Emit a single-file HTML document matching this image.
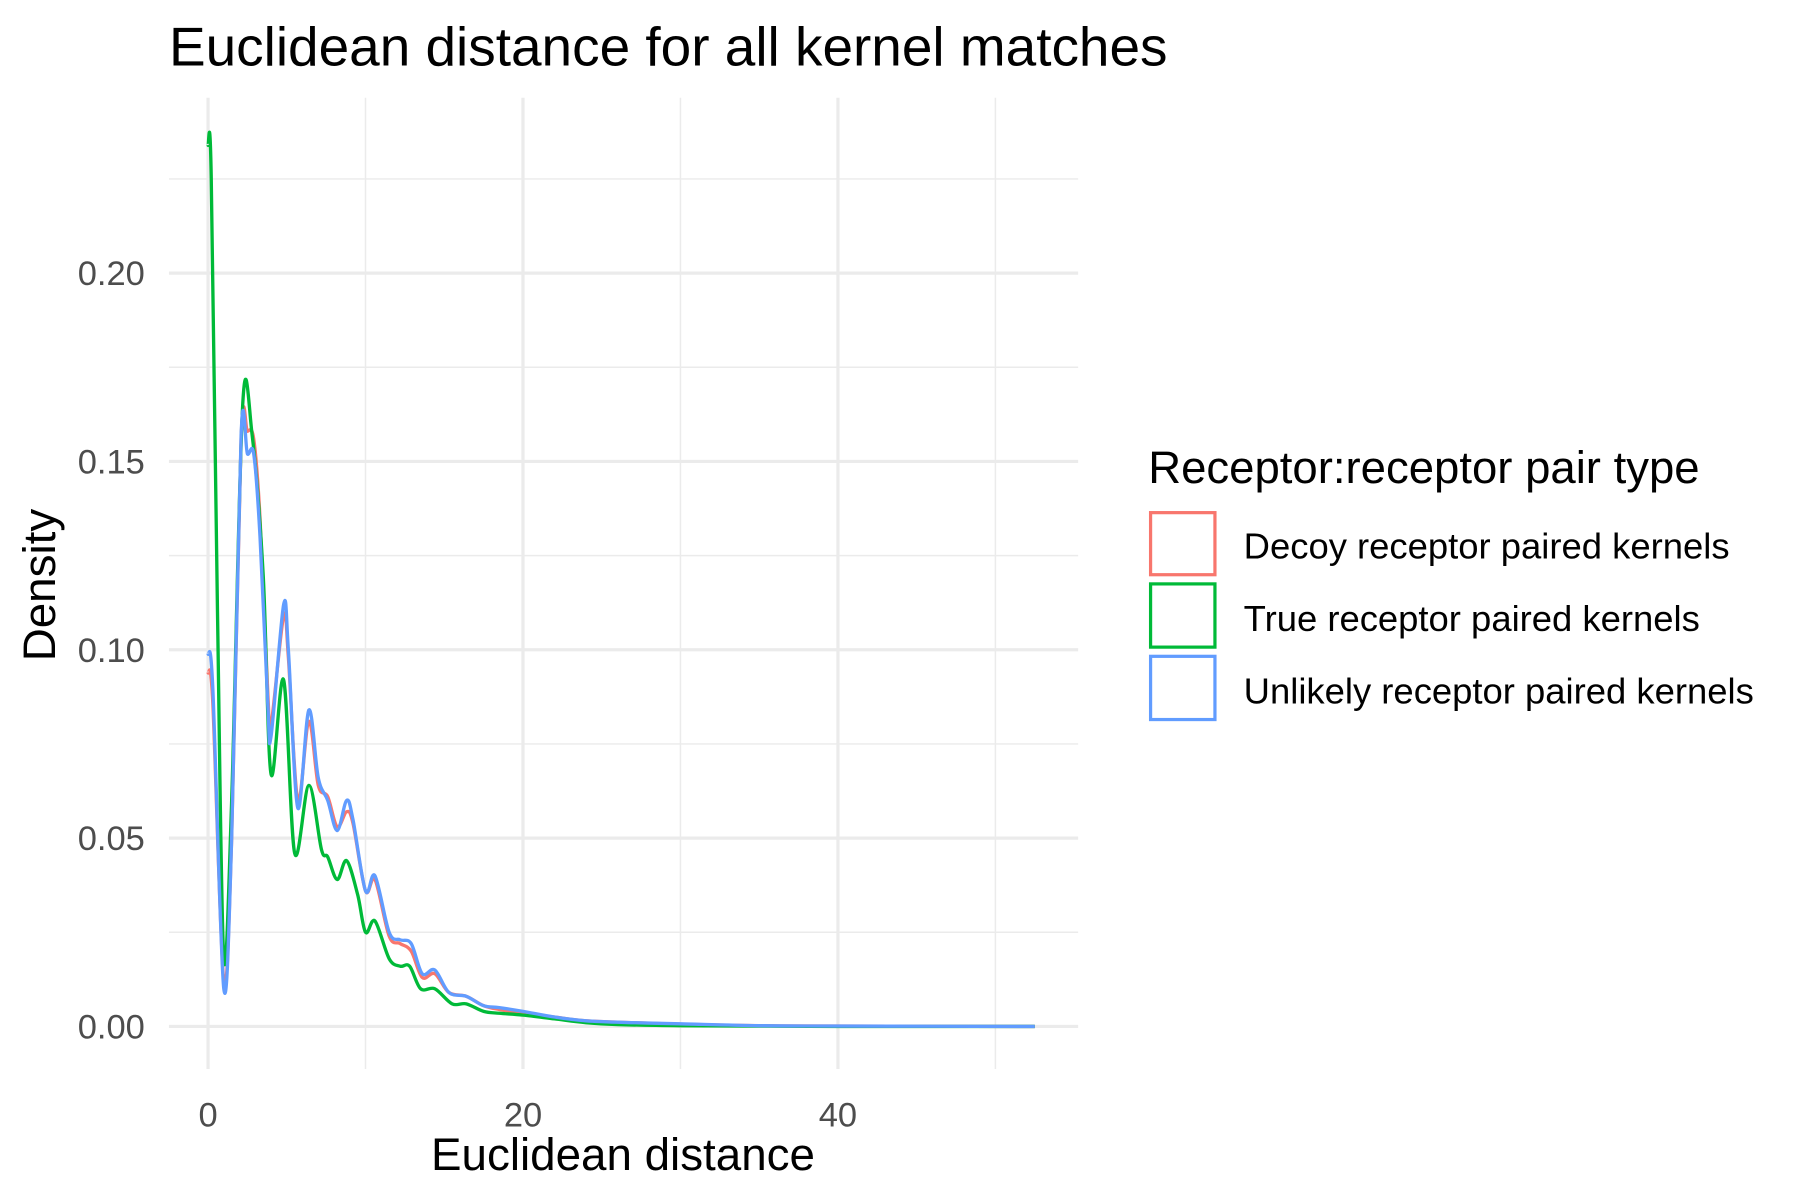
<!DOCTYPE html>
<html><head><meta charset="utf-8"><style>
html,body{margin:0;padding:0;background:#fff;}
svg{display:block;font-family:"Liberation Sans",Arial,sans-serif;}
</style></head><body>
<svg id="chart" width="1800" height="1200" viewBox="0 0 1566 1044" preserveAspectRatio="none" xmlns="http://www.w3.org/2000/svg">
<rect width="1566" height="1044" fill="#fff"/>
<text x="147" y="57" font-size="47.8" fill="#000">Euclidean distance for all kernel matches</text>
<g id="grid"></g>
<g id="series"></g>
<g id="ticks"></g>
<text x="542" y="1018" font-size="39.8" text-anchor="middle" fill="#000">Euclidean distance</text>
<text transform="translate(48,509) rotate(-90)" font-size="39.8" text-anchor="middle" fill="#000">Density</text>
<g>
<text x="999" y="420" font-size="39.6" fill="#000">Receptor:receptor pair type</text>
<rect x="1001" y="446" width="56" height="54" fill="#fff" stroke="#F8766D" stroke-width="2.8"/>
<text x="1082" y="486" font-size="31.7" fill="#000">Decoy receptor paired kernels</text>
<rect x="1001" y="508" width="56" height="55" fill="#fff" stroke="#00BA38" stroke-width="2.8"/>
<text x="1082" y="549" font-size="31.7" fill="#000">True receptor paired kernels</text>
<rect x="1001" y="571" width="56" height="55" fill="#fff" stroke="#619CFF" stroke-width="2.8"/>
<text x="1082" y="612" font-size="31.7" fill="#000">Unlikely receptor paired kernels</text>
</g>
</svg>
<script>
const xTicks=[0,20,40];
const xMinor=[10,30,50];
const yTicks=[0,0.05,0.10,0.15,0.20];
const yTickLabels=["0.00","0.05","0.10","0.15","0.20"];
const yMinor=[0.025,0.075,0.125,0.175,0.225];
const greenX=[0,0.2,0.6,1.0,1.5,2.2,2.8,3.5,4.0,4.8,5.5,6.4,7.2,7.6,8.2,8.8,9.5,10.0,10.6,11.5,12.2,12.8,13.5,14.4,15.5,16.4,17.5,18.5,20,22,24,26,30,35,40,52.5];
const greenY=[0.234,0.226,0.11,0.018,0.06,0.165,0.157,0.12,0.067,0.092,0.046,0.064,0.047,0.045,0.039,0.044,0.035,0.025,0.028,0.018,0.016,0.016,0.010,0.010,0.006,0.006,0.004,0.0035,0.003,0.002,0.001,0.0005,0.0002,0.0001,0,0];
const blueX=[0,0.3,1.0,1.5,2.1,2.5,2.9,3.3,3.8,4.0,4.8,5.1,5.7,6.4,7.0,7.6,8.2,8.8,9.2,10.0,10.6,11.5,12.2,12.9,13.6,14.4,15.3,16.4,17.5,18.5,20,22,24,27,30,35,40,52.5];
const blueY=[0.099,0.09,0.01,0.05,0.157,0.152,0.152,0.13,0.085,0.077,0.112,0.10,0.058,0.084,0.066,0.06,0.052,0.060,0.055,0.036,0.040,0.025,0.023,0.022,0.014,0.015,0.009,0.008,0.0055,0.005,0.004,0.0025,0.0015,0.001,0.0007,0.0002,0.0001,0];
const redX=[0,0.3,1.0,1.5,2.1,2.5,2.9,3.3,3.8,4.0,4.8,5.1,5.7,6.4,7.0,7.6,8.2,8.8,9.2,10.0,10.6,11.5,12.2,12.9,13.6,14.4,15.3,16.4,17.5,18.5,20,22,24,27,30,35,40,52.5];
const redY=[0.094,0.086,0.012,0.05,0.156,0.158,0.156,0.135,0.088,0.08,0.109,0.098,0.06,0.081,0.064,0.061,0.053,0.057,0.054,0.036,0.039,0.024,0.022,0.020,0.013,0.014,0.009,0.008,0.0055,0.0045,0.0035,0.0025,0.0015,0.001,0.0006,0.0002,0.0001,0];
const NS="http://www.w3.org/2000/svg";
const PL=147,PR=938,PT=85,PB=930;
function sx(v){return 181+v*13.7;}
function sy(v){return 893-v*3277;}
function mk(tag,attrs,parent){const e=document.createElementNS(NS,tag);for(const k in attrs)e.setAttribute(k,attrs[k]);parent.appendChild(e);return e;}
const grid=document.getElementById('grid'),ticks=document.getElementById('ticks'),series=document.getElementById('series');
yMinor.forEach(v=>{const l=mk('line',{x1:PL,x2:PR,y1:sy(v),y2:sy(v),stroke:'#ebebeb','stroke-width':1.3},grid);

});
xMinor.forEach(v=>{const l=mk('line',{x1:sx(v),x2:sx(v),y1:PT,y2:PB,stroke:'#ebebeb','stroke-width':1.3},grid);

});
yTicks.forEach((v,i)=>{const l=mk('line',{x1:PL,x2:PR,y1:sy(v),y2:sy(v),stroke:'#ebebeb','stroke-width':2.8},grid);


const t=mk('text',{x:126,y:sy(v)+10.5,'font-size':30,fill:'#4d4d4d','text-anchor':'end'},ticks);t.textContent=yTickLabels[i];

});
xTicks.forEach(v=>{const l=mk('line',{x1:sx(v),x2:sx(v),y1:PT,y2:PB,stroke:'#ebebeb','stroke-width':2.8},grid);


const t=mk('text',{x:sx(v),y:980,'font-size':30,fill:'#4d4d4d','text-anchor':'middle'},ticks);t.textContent=String(v);

});
function pathFor(xs,ys){const p=xs.map((x,i)=>[sx(x),sy(ys[i])]);let d='M'+p[0][0]+','+p[0][1];
for(let i=0;i<p.length-1;i++){const p0=p[Math.max(0,i-1)],p1=p[i],p2=p[i+1],p3=p[Math.min(p.length-1,i+2)];
const c1x=p1[0]+(p2[0]-p0[0])/6,c1y=p1[1]+(p2[1]-p0[1])/6,c2x=p2[0]-(p3[0]-p1[0])/6,c2y=p2[1]-(p3[1]-p1[1])/6;
d+=` C${c1x},${c1y} ${c2x},${c2y} ${p2[0]},${p2[1]}`;}return d;}
[[redX,redY,'#F8766D','decoy-density-line'],[greenX,greenY,'#00BA38','true-density-line'],[blueX,blueY,'#619CFF','unlikely-density-line']].forEach(s=>{
const e=mk('path',{d:pathFor(s[0],s[1]),fill:'none',stroke:s[2],'stroke-width':2.9,'stroke-linejoin':'round'},series);

});
</script>
</body></html>
